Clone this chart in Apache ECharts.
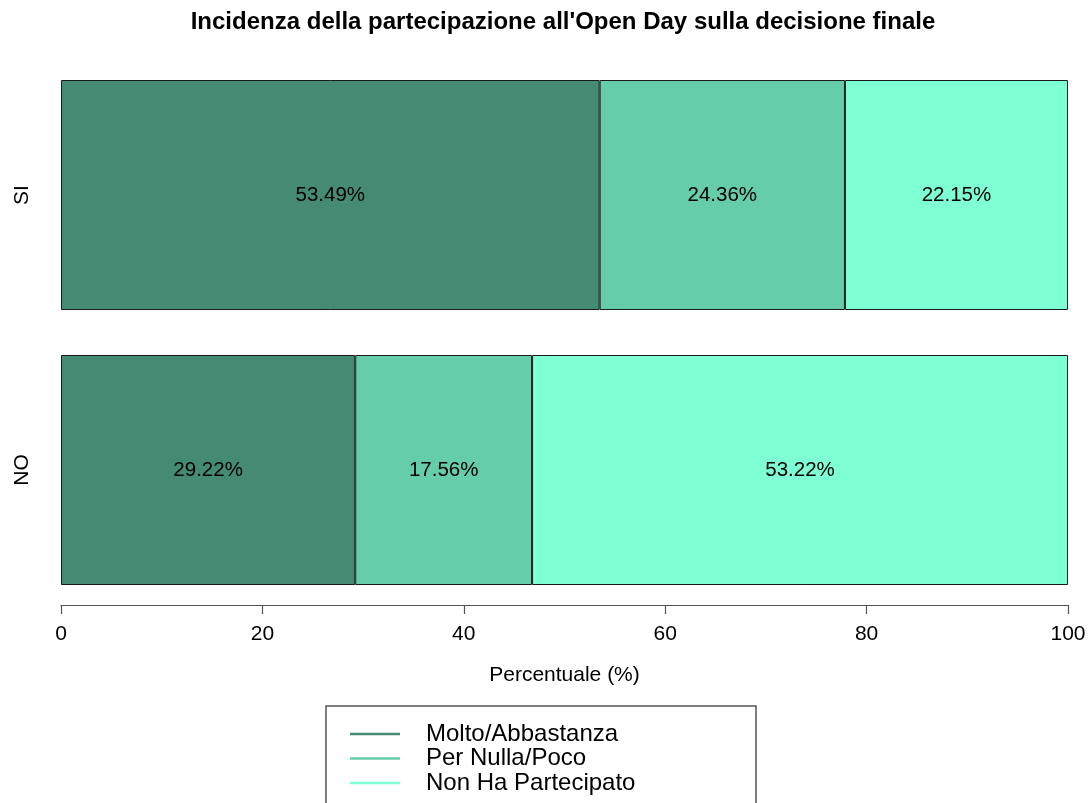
<!DOCTYPE html>
<html>
<head>
<meta charset="utf-8">
<script src="https://cdn.jsdelivr.net/npm/echarts@6/dist/echarts.min.js"></script>
<style>
html,body{margin:0;padding:0;background:#fff;}
#chart{width:1091px;height:803px;}
</style>
</head>
<body>
<div id="chart"></div>
<script>
const categories = ['NO', 'SI'];
const seriesNames = ['Molto/Abbastanza', 'Per Nulla/Poco', 'Non Ha Partecipato'];
const molto = [29.22, 53.49];
const nulla = [17.56, 24.36];
const nonPart = [53.22, 22.15];
const xTicks = [0, 20, 40, 60, 80, 100];
const colors = ['#458B74', '#66CDAA', '#7FFFD4'];

const FONT = '"Liberation Sans", Arial, sans-serif';
const values = [molto, nulla, nonPart];

const chart = echarts.init(document.getElementById('chart'), null, {renderer: 'canvas'});
chart.setOption({
  animation: false,
  backgroundColor: '#ffffff',
  textStyle: {fontFamily: FONT},
  title: {
    text: "Incidenza della partecipazione all'Open Day sulla decisione finale",
    left: 558, top: 5, textAlign: 'center',
    textStyle: {fontFamily: FONT, fontSize: 24, fontWeight: 'bold', color: '#000'}
  },
  grid: {left: 61, right: 23, top: 57.5, height: 550, containLabel: false},
  xAxis: {
    type: 'value', min: 0, max: 100, interval: 20,
    offset: -2.5,
    name: 'Percentuale (%)', nameLocation: 'middle', nameGap: 60,
    nameTextStyle: {fontFamily: FONT, fontSize: 21, color: '#000'},
    axisLine: {show: true, lineStyle: {color: '#555', width: 1.2}},
    axisTick: {show: true, length: 9, lineStyle: {color: '#555', width: 1.2}},
    axisLabel: {fontFamily: FONT, fontSize: 21, color: '#000', margin: 19,
      formatter: function (v) { return xTicks.indexOf(v) >= 0 ? String(v) : ''; }},
    splitLine: {show: false}
  },
  yAxis: {
    type: 'category', data: categories,
    axisLine: {show: false}, axisTick: {show: false},
    axisLabel: {fontFamily: FONT, fontSize: 21, color: '#000', rotate: 90, margin: 28}
  },
  legend: {
    orient: 'vertical', left: 345, top: 717,
    icon: 'rect', itemWidth: 50, itemHeight: 2.5, itemGap: 0.5,
    itemStyle: {borderWidth: 0},
    data: seriesNames,
    textStyle: {fontFamily: FONT, fontSize: 24, color: '#000', lineHeight: 24, padding: [0, 0, 0, 21]}
  },
  graphic: [{
    type: 'rect',
    shape: {x: 326, y: 706, width: 430, height: 120},
    style: {fill: 'none', stroke: '#555', lineWidth: 1.5},
    silent: true
  }],
  series: seriesNames.map(function (name, i) {
    return {
      name: name, type: 'bar', stack: 'total', barWidth: 230,
      data: values[i],
      itemStyle: {color: colors[i], borderColor: '#1a1a1a', borderWidth: 1},
      label: {show: true, position: 'inside', formatter: function (p) { return p.value.toFixed(2) + '%'; },
        fontFamily: FONT, fontSize: 20.5, color: '#000'}
    };
  })
});
</script>
</body>
</html>
